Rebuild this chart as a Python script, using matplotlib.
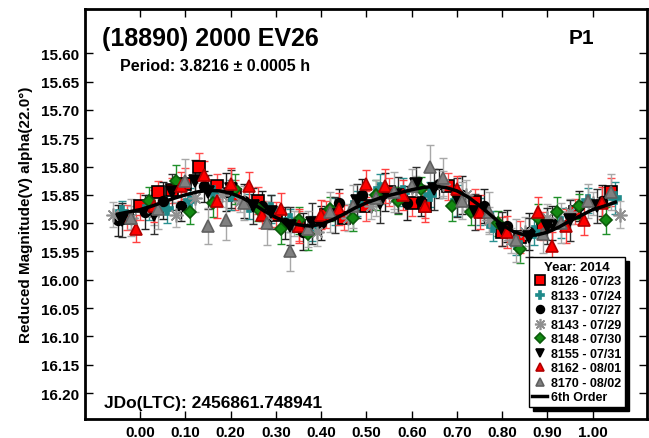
import matplotlib
matplotlib.use("Agg")
import matplotlib.pyplot as plt

plt.rcParams['font.family'] = ['Liberation Sans', 'DejaVu Sans']
plt.rcParams['font.weight'] = 'bold'

# 6th order fit, sampled
fit_phase = [-0.05, -0.025, 0.0, 0.025, 0.05, 0.075, 0.10, 0.125, 0.15, 0.175,
             0.20, 0.225, 0.25, 0.275, 0.30, 0.325, 0.35, 0.375, 0.40, 0.425,
             0.45, 0.475, 0.50, 0.525, 0.55, 0.575, 0.60, 0.625, 0.65, 0.675,
             0.70, 0.725, 0.75, 0.775, 0.80, 0.825, 0.85, 0.875, 0.90, 0.925,
             0.95, 0.975, 1.00, 1.025, 1.05]
fit_mag = [15.884, 15.880, 15.876, 15.870, 15.863, 15.856, 15.850, 15.845, 15.842, 15.843,
           15.847, 15.855, 15.866, 15.879, 15.890, 15.898, 15.903, 15.905, 15.902, 15.894,
           15.884, 15.873, 15.864, 15.857, 15.851, 15.846, 15.841, 15.837, 15.835, 15.837,
           15.843, 15.854, 15.869, 15.886, 15.903, 15.915, 15.921, 15.921, 15.916, 15.907,
           15.896, 15.886, 15.876, 15.870, 15.863]

ph_8126 = [-0.03, 0.00, 0.04, 0.07, 0.10, 0.13, 0.17, 0.21, 0.26, 0.30, 0.35, 0.41,
           0.45, 0.50, 0.55, 0.60, 0.63, 0.68, 0.74, 0.80, 0.84, 0.89, 0.96, 1.04]
mag_8126 = [15.890, 15.870, 15.845, 15.842, 15.830, 15.800, 15.835, 15.850, 15.860, 15.885, 15.905, 15.885,
            15.890, 15.870, 15.845, 15.865, 15.870, 15.835, 15.862, 15.915, 15.925, 15.905, 15.880, 15.845]
err_8126 = [0.022, 0.024, 0.020, 0.022, 0.027, 0.024, 0.022, 0.026, 0.024, 0.022, 0.027, 0.024,
            0.022, 0.026, 0.024, 0.022, 0.020, 0.024, 0.022, 0.026, 0.028, 0.024, 0.022, 0.024]

ph_8133 = [-0.04, 0.02, 0.06, 0.11, 0.16, 0.20, 0.24, 0.29, 0.33, 0.38, 0.43, 0.48,
           0.53, 0.58, 0.64, 0.70, 0.75, 0.78, 0.83, 0.87, 0.93, 0.99, 1.05]
mag_8133 = [15.880, 15.872, 15.875, 15.860, 15.845, 15.850, 15.870, 15.875, 15.895, 15.910, 15.880, 15.865,
            15.840, 15.845, 15.850, 15.860, 15.880, 15.905, 15.935, 15.915, 15.900, 15.860, 15.855]
err_8133 = [0.020, 0.022, 0.024, 0.022, 0.020, 0.026, 0.022, 0.024, 0.020, 0.022, 0.024, 0.022,
            0.026, 0.024, 0.022, 0.028, 0.024, 0.026, 0.022, 0.024, 0.026, 0.022, 0.028]

ph_8137 = [-0.05, 0.01, 0.05, 0.09, 0.14, 0.19, 0.23, 0.27, 0.32, 0.36, 0.40, 0.44,
           0.49, 0.54, 0.59, 0.62, 0.66, 0.71, 0.76, 0.81, 0.86, 0.91, 0.97, 1.02]
mag_8137 = [15.895, 15.880, 15.860, 15.870, 15.835, 15.845, 15.860, 15.870, 15.900, 15.915, 15.900, 15.865,
            15.850, 15.845, 15.865, 15.860, 15.830, 15.850, 15.870, 15.905, 15.915, 15.900, 15.870, 15.860]
err_8137 = [0.027, 0.030, 0.033, 0.026, 0.028, 0.033, 0.030, 0.026, 0.028, 0.033, 0.030, 0.026,
            0.028, 0.033, 0.030, 0.028, 0.026, 0.033, 0.030, 0.028, 0.033, 0.030, 0.026, 0.028]

ph_8143 = [-0.06, -0.02, 0.03, 0.08, 0.12, 0.18, 0.22, 0.28, 0.34, 0.39, 0.46, 0.51,
           0.56, 0.61, 0.67, 0.72, 0.77, 0.82, 0.85, 0.90, 0.95, 1.00, 1.06]
mag_8143 = [15.885, 15.890, 15.880, 15.885, 15.855, 15.850, 15.860, 15.885, 15.900, 15.915, 15.890, 15.870,
            15.855, 15.840, 15.830, 15.850, 15.895, 15.930, 15.915, 15.890, 15.880, 15.865, 15.885]
err_8143 = [0.022, 0.020, 0.024, 0.022, 0.026, 0.022, 0.020, 0.024, 0.022, 0.026, 0.024, 0.022,
            0.020, 0.024, 0.022, 0.026, 0.024, 0.022, 0.026, 0.024, 0.022, 0.020, 0.024]

ph_8148 = [0.02, 0.08, 0.11, 0.16, 0.21, 0.26, 0.31, 0.35, 0.37, 0.42, 0.47,
           0.52, 0.57, 0.62, 0.69, 0.73, 0.79, 0.84, 0.88, 0.92, 0.97, 1.03]
mag_8148 = [15.860, 15.825, 15.880, 15.865, 15.840, 15.875, 15.910, 15.895, 15.920, 15.875, 15.890,
            15.850, 15.860, 15.840, 15.870, 15.880, 15.900, 15.945, 15.890, 15.880, 15.870, 15.895]
err_8148 = [0.024, 0.027, 0.022, 0.024, 0.027, 0.022, 0.026, 0.024, 0.027, 0.022, 0.024,
            0.026, 0.024, 0.022, 0.027, 0.024, 0.022, 0.026, 0.024, 0.027, 0.022, 0.024]

ph_8155 = [-0.04, 0.03, 0.07, 0.12, 0.15, 0.20, 0.25, 0.29, 0.33, 0.38, 0.43, 0.48,
           0.53, 0.57, 0.61, 0.65, 0.70, 0.74, 0.80, 0.86, 0.90, 0.95, 1.01]
mag_8155 = [15.895, 15.885, 15.845, 15.825, 15.845, 15.840, 15.870, 15.880, 15.905, 15.900, 15.885, 15.860,
            15.865, 15.850, 15.830, 15.840, 15.855, 15.880, 15.910, 15.925, 15.905, 15.895, 15.870]
err_8155 = [0.030, 0.034, 0.032, 0.036, 0.030, 0.034, 0.032, 0.030, 0.034, 0.036, 0.032, 0.030,
            0.034, 0.032, 0.030, 0.036, 0.034, 0.032, 0.030, 0.034, 0.032, 0.036, 0.030]

ph_8162 = [-0.01, 0.03, 0.09, 0.14, 0.17, 0.20, 0.24, 0.27, 0.31, 0.35, 0.40, 0.44,
           0.50, 0.54, 0.58, 0.63, 0.70, 0.75, 0.81, 0.88, 0.91, 0.94, 0.98, 1.02]
mag_8162 = [15.910, 15.870, 15.835, 15.815, 15.860, 15.830, 15.835, 15.885, 15.875, 15.905, 15.885, 15.875,
            15.830, 15.835, 15.850, 15.870, 15.840, 15.880, 15.915, 15.880, 15.940, 15.905, 15.895, 15.865]
err_8162 = [0.024, 0.028, 0.026, 0.024, 0.030, 0.028, 0.026, 0.024, 0.028, 0.030, 0.026, 0.028,
            0.024, 0.030, 0.026, 0.028, 0.024, 0.030, 0.028, 0.026, 0.024, 0.030, 0.026, 0.028]

ph_8170 = [-0.02, 0.04, 0.10, 0.15, 0.19, 0.23, 0.28, 0.33, 0.37, 0.42, 0.47, 0.52,
           0.56, 0.60, 0.64, 0.67, 0.71, 0.77, 0.83, 0.89, 0.93, 0.99, 1.04]
mag_8170 = [15.890, 15.875, 15.825, 15.905, 15.895, 15.865, 15.900, 15.950, 15.910, 15.880, 15.870, 15.855,
            15.845, 15.835, 15.800, 15.820, 15.860, 15.880, 15.930, 15.920, 15.900, 15.860, 15.845]
err_8170 = [0.032, 0.035, 0.038, 0.032, 0.035, 0.030, 0.038, 0.035, 0.032, 0.035, 0.038, 0.032,
            0.035, 0.030, 0.038, 0.035, 0.032, 0.035, 0.038, 0.032, 0.035, 0.030, 0.032]

sessions = [
    ("8126 - 07/23", ph_8126, mag_8126, err_8126, "s", "#ff0000", "black", "#ff5050", 8.5),
    ("8133 - 07/24", ph_8133, mag_8133, err_8133, "P", "#1f8a8a", "#1f8a8a", "#2a9090", 8),
    ("8137 - 07/27", ph_8137, mag_8137, err_8137, "o", "black", "black", "#202020", 7),
    ("8143 - 07/29", ph_8143, mag_8143, err_8143, (8, 2, 0), "#909090", "#909090", "#b0b0b0", 10),
    ("8148 - 07/30", ph_8148, mag_8148, err_8148, "D", "#138a13", "#0a5a0a", "#20902a", 6),
    ("8155 - 07/31", ph_8155, mag_8155, err_8155, "v", "black", "black", "#303030", 8),
    ("8162 - 08/01", ph_8162, mag_8162, err_8162, "^", "#ff0000", "#b00000", "#ff4040", 8),
    ("8170 - 08/02", ph_8170, mag_8170, err_8170, "^", "#808080", "#606060", "#a8a8a8", 8),
]

fig = plt.figure(figsize=(6.49, 4.39), dpi=100)
ax = fig.add_axes([0.131, 0.043, 0.866, 0.934])

for label, ph, mag, err, mk, fc, ec, erc, ms in sessions:
    ax.errorbar(ph, mag, yerr=err, fmt="none", ecolor=erc, elinewidth=1.0,
                capsize=3, capthick=1.0, zorder=2)
    ax.plot(ph, mag, linestyle="none", marker=mk, markersize=ms,
            markerfacecolor=fc, markeredgecolor=ec, markeredgewidth=1.2,
            label=label, zorder=3)

ax.plot(fit_phase, fit_mag, color="black", linewidth=2.5, label="6th Order", zorder=4)

ax.set_xlim(-0.122, 1.12)
ax.set_ylim(16.246, 15.522)
ax.set_xticks([0.0, 0.1, 0.2, 0.3, 0.4, 0.5, 0.6, 0.7, 0.8, 0.9, 1.0])
ax.set_yticks([15.60, 15.65, 15.70, 15.75, 15.80, 15.85, 15.90, 15.95,
               16.00, 16.05, 16.10, 16.15, 16.20])
ax.xaxis.set_major_formatter(matplotlib.ticker.FormatStrFormatter("%.2f"))
ax.yaxis.set_major_formatter(matplotlib.ticker.FormatStrFormatter("%.2f"))
ax.tick_params(direction="in", length=6, width=1, top=True, right=True,
               labelsize=11, pad=4)
for lab in ax.get_xticklabels() + ax.get_yticklabels():
    lab.set_fontweight("bold")
for sp in ax.spines.values():
    sp.set_linewidth(2)

ax.set_ylabel("Reduced Magnitude(V) alpha(22.0\u00b0)", fontsize=11, fontweight="bold", labelpad=6)

ax.text(0.03, 0.93, "(18890) 2000 EV26", transform=ax.transAxes, fontsize=18,
        fontweight="bold", va="center", ha="left")
ax.text(0.062, 0.862, "Period: 3.8216 \u00b1 0.0005 h", transform=ax.transAxes,
        fontsize=11.5, fontweight="bold", va="center", ha="left")
ax.text(0.86, 0.93, "P1", transform=ax.transAxes, fontsize=15,
        fontweight="bold", va="center", ha="left")
ax.text(0.033, 0.04, "JDo(LTC): 2456861.748941", transform=ax.transAxes,
        fontsize=12.5, fontweight="bold", va="center", ha="left")

leg = ax.legend(loc="lower right", bbox_to_anchor=(0.961, 0.029), borderaxespad=0,
                title="Year: 2014", fontsize=9, frameon=True, fancybox=False,
                shadow={"color": "black", "alpha": 1.0, "ox": 3, "oy": -3},
                edgecolor="black", handlelength=1.2, handletextpad=0.3,
                labelspacing=0.2, borderpad=0.3, markerscale=0.8)
leg.get_title().set_fontweight("bold")
leg.get_title().set_fontsize(9.5)
leg.get_frame().set_linewidth(1)
for t in leg.get_texts():
    t.set_fontweight("bold")

fig.savefig("out.png", dpi=100)
